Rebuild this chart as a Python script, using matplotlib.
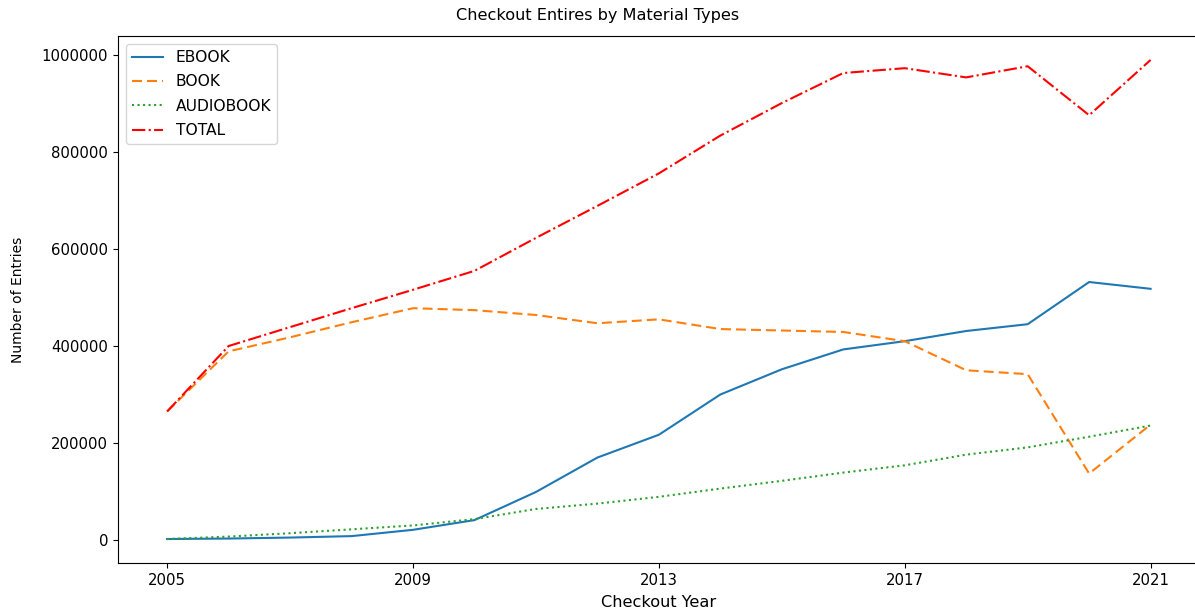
import matplotlib
matplotlib.use("Agg")
import matplotlib.pyplot as plt

years = list(range(2005, 2022))
ebook = [2000, 3000, 5000, 8000, 21000, 41000, 99000, 170000, 217000, 300000,
         352000, 393000, 410000, 431000, 445000, 532000, 518000]
book = [265000, 389000, 418000, 449000, 478000, 474000, 464000, 447000, 455000,
        435000, 432000, 429000, 410000, 350000, 342000, 137000, 238000]
audiobook = [2000, 7000, 14000, 22000, 30000, 43000, 64000, 75000, 89000, 106000,
             122000, 139000, 154000, 176000, 191000, 213000, 236000]
total = [265000, 400000, 439000, 478000, 516000, 555000, 623000, 689000, 756000,
         834000, 901000, 963000, 973000, 954000, 977000, 876000, 990000]
xticks = [2005, 2009, 2013, 2017, 2021]

fig, ax = plt.subplots(figsize=(11.95, 6.14), dpi=100)
ax.plot(years, ebook, color="#1f77b4", linestyle="-", label="EBOOK")
ax.plot(years, book, color="#ff7f0e", linestyle=(0, (4.8, 2.4)), label="BOOK")
ax.plot(years, audiobook, color="#2ca02c", linestyle=":", label="AUDIOBOOK")
ax.plot(years, total, color="red", linestyle="-.", label="TOTAL")

ax.set_xticks(xticks)
ax.ticklabel_format(axis="y", style="plain")
ax.tick_params(labelsize=10.7)
# title is centred on the figure, not on the axes
fig.suptitle("Checkout Entires by Material Types", fontsize=11.6, x=0.5, y=0.987, va="top")
ax.set_xlabel("Checkout Year", fontsize=11.6, labelpad=5)
ax.set_ylabel("Number of Entries", fontsize=10, labelpad=12)
ax.legend(loc="upper left", fontsize=11.2, labelspacing=0.6)
ax.spines["right"].set_visible(False)

fig.subplots_adjust(left=0.0987, right=1.004, top=0.9414, bottom=0.0831)
fig.savefig("out.png", dpi=100)
